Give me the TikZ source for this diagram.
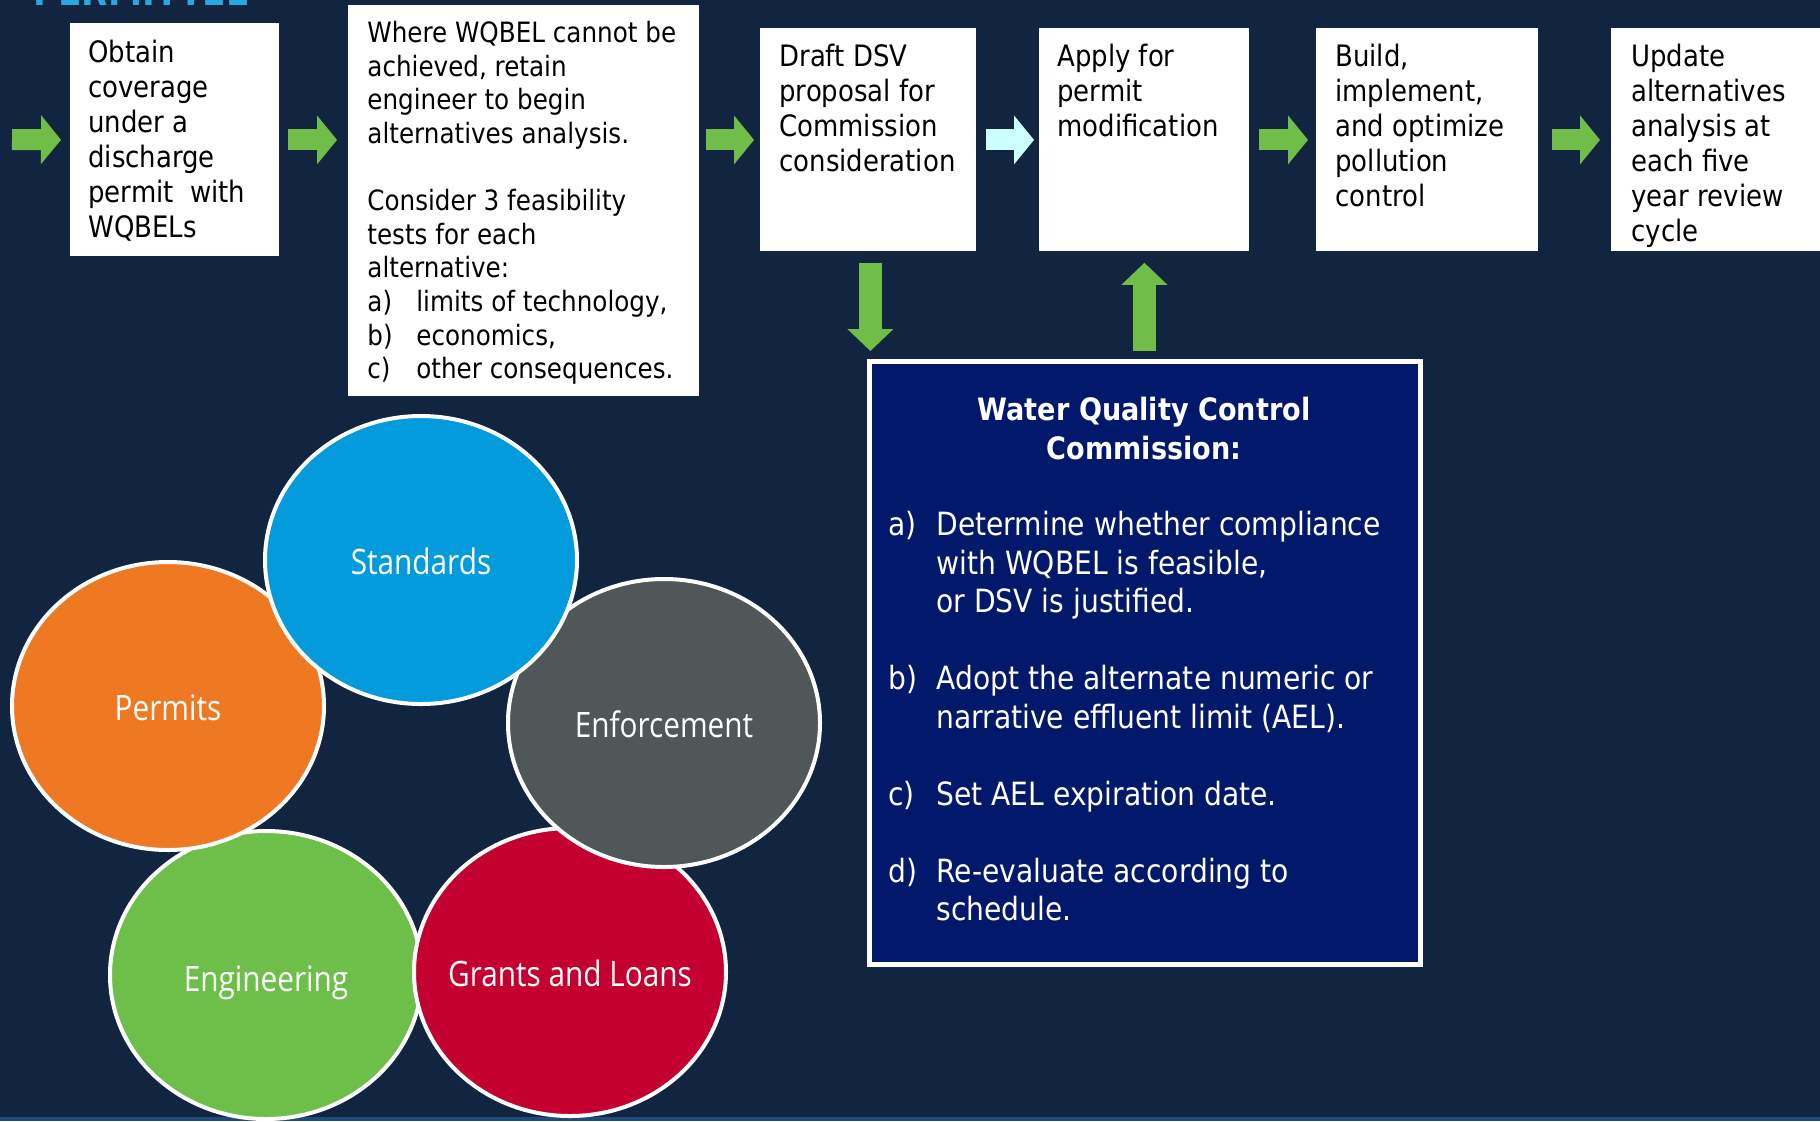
\documentclass[tikz,border=0pt]{standalone}
\usepackage{fontspec}
\usetikzlibrary{shapes.geometric,arrows.meta,calc}
\newfontfamily\tah{DejaVu Sans}[FakeStretch=0.88]
\newfontfamily\circf{Open Sans}[FakeStretch=0.85]
\definecolor{bgnavy}{RGB}{17,36,64}
\definecolor{stripblue}{RGB}{31,75,124}
\definecolor{agreen}{RGB}{112,189,72}
\definecolor{acyan}{RGB}{204,255,255}
\definecolor{cgreen}{RGB}{110,190,74}
\definecolor{cblue}{RGB}{3,155,219}
\definecolor{corange}{RGB}{239,120,34}
\definecolor{cgray}{RGB}{80,87,88}
\definecolor{cred}{RGB}{195,0,48}
\definecolor{commblue}{RGB}{2,24,106}
\definecolor{titleblue}{RGB}{40,167,225}
\begin{document}
\begin{tikzpicture}[x=0.5pt,y=-0.5pt,
  whitebox/.style={rectangle, fill=white, draw=none, inner sep=0pt, anchor=north west},
  boxtext/.style={anchor=north west, inner sep=0pt, align=left, text=black,
    font=\tah\fontsize{14.75pt}{17.5pt}\selectfont},
  boxtextsmall/.style={anchor=north west, inner sep=0pt, align=left, text=black,
    font=\tah\fontsize{14pt}{16.8pt}\selectfont},
  harrow/.style={draw=agreen, line width=10.5pt,
    -{Triangle[length=10pt, width=24.5pt, line width=0pt]}},
  varrow/.style={draw=agreen, line width=11.25pt,
    -{Triangle[length=11pt, width=23pt, line width=0pt]}},
  circ/.style={ellipse, draw=white, line width=2pt, inner sep=0pt,
    minimum width=156pt, minimum height=144pt},
  circtext/.style={anchor=base, inner sep=0pt, text=white,
    font=\circf\fontsize{17.5pt}{20pt}\selectfont},
]
\useasboundingbox (0,0) rectangle (1820,1121);
\clip (0,0) rectangle (1820,1121);
\fill[bgnavy] (0,0) rectangle (1820,1121);
\fill[stripblue] (0,1117) rectangle (1820,1121);

% cut-off heading
\node[anchor=base west, inner sep=0pt, text=titleblue,
  font=\tah\bfseries\fontsize{19.5pt}{22pt}\selectfont] (ttl) at (33,5) {PERMITTEE};

% top process boxes
\node[whitebox, minimum width=104.5pt, minimum height=116.5pt] (b1) at (70,23) {};
\node[whitebox, minimum width=175.5pt, minimum height=195.5pt] (b2) at (348,5) {};
\node[whitebox, minimum width=108pt, minimum height=111.5pt] (b3) at (760,28) {};
\node[whitebox, minimum width=105pt, minimum height=111.5pt] (b4) at (1039,28) {};
\node[whitebox, minimum width=111pt, minimum height=111.5pt] (b5) at (1316,28) {};
\node[whitebox, minimum width=110pt, minimum height=111.5pt] (b6) at (1611,28) {};

\node[boxtext] (t1) at ($(b1.north west)+(18,17)$)
  {Obtain\\coverage\\under a\\discharge\\permit~ with\\WQBELs};
\node[boxtextsmall] (t2) at ($(b2.north west)+(19,16)$)
  {Where WQBEL cannot be\\achieved, retain\\engineer to begin\\alternatives analysis.\\[16.8pt]%
   Consider 3 feasibility\\tests for each\\alternative:\\%
   \makebox[24.5pt][l]{a)}limits of technology,\\%
   \makebox[24.5pt][l]{b)}economics,\\%
   \makebox[24.5pt][l]{c)}other consequences.};
\node[boxtext] (t3) at ($(b3.north west)+(19,16)$)
  {Draft DSV\\proposal for\\Commission\\consideration};
\node[boxtext] (t4) at ($(b4.north west)+(18,16)$)
  {Apply for\\permit\\modification};
\node[boxtext] (t5) at ($(b5.north west)+(19,16)$)
  {Build,\\implement,\\and optimize\\pollution\\control};
\node[boxtext] (t6) at ($(b6.north west)+(20,16)$)
  {Update\\alternatives\\analysis at\\each five\\year review\\cycle};

% commission box
\node[rectangle, fill=commblue, draw=white, line width=2.5pt, inner sep=0pt,
  minimum width=275.5pt, minimum height=301.5pt] (comm) at (1145,663) {};
\node[anchor=north, inner sep=0pt, align=center, text=white,
  font=\tah\bfseries\fontsize{15.4pt}{19.5pt}\selectfont] (commt) at (1144,397)
  {Water Quality Control\\Commission:};
\node[anchor=north west, inner sep=0pt, text=white,
  font=\tah\fontsize{16pt}{19.25pt}\selectfont] (comml) at (888,508.5)
  {\begin{tabular}{@{}p{24pt}@{}l@{}}
   a) & Determine whether compliance\\
      & with WQBEL is feasible,\\
      & or DSV is justified.\\
      & \\
   b) & Adopt the alternate numeric or\\
      & narrative effluent limit (AEL).\\
      & \\
   c) & Set AEL expiration date.\\
      & \\
   d) & Re-evaluate according to\\
      & schedule.
   \end{tabular}};

% arrows
\coordinate (a0s) at (12,139.5);
\draw[harrow] (a0s) -- ($(b1.west)+(-9,0)$);
\draw[harrow] ($(b1.east)+(8,0)$) -- ($(b1.east -| b2.west)+(-11,0)$);
\draw[harrow] ($(b1.east -| b2.east)+(6,0)$) -- ($(b3.west)+(-6,0)$);
\draw[harrow, draw=acyan] ($(b3.east)+(9,0)$) -- ($(b4.west)+(-5,0)$);
\draw[harrow] ($(b4.east)+(9,0)$) -- ($(b5.west)+(-8,0)$);
\draw[harrow] ($(b5.east)+(13,0)$) -- ($(b6.west)+(-11,0)$);
\draw[varrow] ($(b3.south)+(2,11)$) -- ($(b3.south |- comm.north)+(2,-8)$);
\draw[varrow] ($(b4.south |- comm.north)+(0,-8)$) -- ($(b4.south)+(0,11)$);

% circles (back to front)
\node[circ, fill=cgreen] (eng) at (266,975) {};
\node[circ, fill=cred] (gl) at (570,972) {};
\node[circ, fill=cgray] (enf) at (664,723) {};
\node[circ, fill=corange] (per) at (168,706) {};
\node[circ, fill=cblue] (std) at (421,560) {};
\node[circtext] (engt) at (266,991) {Engineering};
\node[circtext] (glt) at (570,986) {Grants and Loans};
\node[circtext] (enft) at (664,737) {Enforcement};
\node[circtext] (pert) at (168,720) {Permits};
\node[circtext] (stdt) at (421,574) {Standards};
\end{tikzpicture}
\end{document}
